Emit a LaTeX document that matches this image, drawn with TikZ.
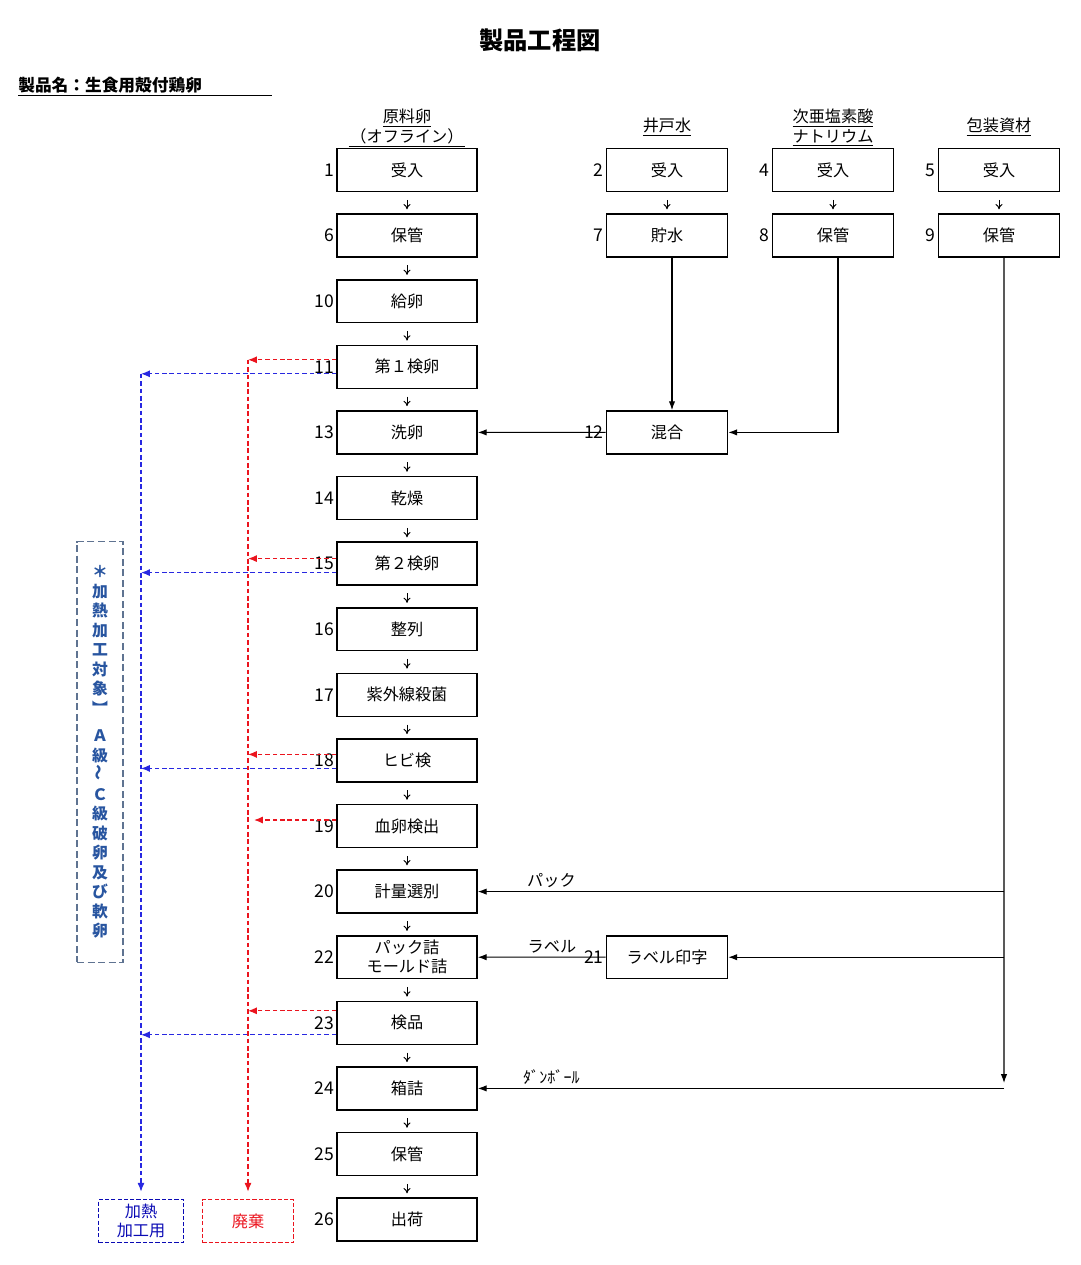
\documentclass[tikz,border=0pt]{standalone}
\usepackage{fontspec}
\setmainfont{Noto Sans CJK JP}
\usepackage{graphicx}
\usetikzlibrary{arrows.meta}
\definecolor{rejred}{RGB}{235,20,30}
\definecolor{rejblue}{RGB}{40,40,225}
\definecolor{heatblue}{RGB}{10,10,180}
\definecolor{notetext}{RGB}{40,85,160}
\definecolor{noteframe}{RGB}{95,115,145}

\begin{document}
\begin{tikzpicture}[x=0.02cm, y=-0.02cm,
        every node/.style={font=\fontsize{9.2}{10.7}\selectfont},
        proc/.style={draw, line width=0.9pt, minimum width=2.8cm, minimum height=0.86cm, inner sep=0pt, align=center},
        sub/.style={proc, minimum width=2.42cm},
        num/.style={anchor=east, inner sep=1pt, font=\fontsize{10}{12}\selectfont},
        colhead/.style={align=center, inner sep=0pt, font=\fontsize{9.2}{9.8}\selectfont},
        stepto/.style={-{To[length=3pt,width=4pt]}, line width=0.55pt, shorten <=0.15cm, shorten >=0.08cm},
        flow/.style={-{Latex[length=5pt,width=3.6pt]}, line width=0.6pt},
        rej/.style={-{Latex[length=5pt,width=4pt]}, line width=0.7pt, dash pattern=on 2.6pt off 1.6pt},
        tag/.style={draw, line width=0.9pt, dash pattern=on 2.4pt off 1.2pt, minimum width=1.7cm, minimum height=0.86cm, align=center, inner sep=0pt},
        lbl/.style={above, inner sep=2pt}]

    \useasboundingbox (0,0) rectangle (1080,1265);

    \node[font=\fontsize{13.8}{16}\bfseries\selectfont] (title) at (540,40) {製品工程図};
    \node[anchor=west, inner sep=0pt, font=\fontsize{9.5}{11}\bfseries\selectfont] (prod) at (18,87) {\underline{\makebox[5.08cm][l]{製品名：生食用殻付鶏卵}}};

    % column heads
    \node[colhead] (h1) at (407,128) {\underline{原料卵}\\\underline{\makebox[2.34cm]{（オフライン）}}};
    \node[colhead] (h2) at (667,127) {\underline{井戸水}};
    \node[colhead] (h3) at (833,128) {\underline{次亜塩素酸}\\\underline{ナトリウム}};
    \node[colhead] (h4) at (999,127) {\underline{包装資材}};

    % main line
    \foreach \k/\lab/\i in {1/受入/0, 6/保管/1, 10/給卵/2, 11/第１検卵/3, 13/洗卵/4, 14/乾燥/5, 15/第２検卵/6, 16/整列/7, 17/紫外線殺菌/8, 18/ヒビ検/9, 19/血卵検出/10, 20/計量選別/11, 22/{パック詰\\モールド詰}/12, 23/検品/13, 24/箱詰/14, 25/保管/15, 26/出荷/16} {
        \node[proc] (b\k) at (407, {170+65.6*\i}) {\lab};
        \node[num] (n\k) at (b\k.west) {\k};
    }

    % side lines
    \foreach \k/\lab/\x/\y in {2/受入/667/170, 7/貯水/667/235.6, 4/受入/833/170, 8/保管/833/235.6, 5/受入/999/170, 9/保管/999/235.6, 12/混合/667/432.4, 21/ラベル印字/667/957.2} {
        \node[sub] (b\k) at (\x,\y) {\lab};
        \node[num] (n\k) at (b\k.west) {\k};
    }

    \foreach \a/\b in {1/6, 6/10, 10/11, 11/13, 13/14, 14/15, 15/16, 16/17, 17/18, 18/19, 19/20, 20/22, 22/23, 23/24, 24/25, 25/26, 2/7, 4/8, 5/9}
        \draw[stepto] (b\a) -- (b\b);

    % water
    \draw[flow] ([xshift=0.1cm]b7.south) -- ([xshift=0.1cm]b12.north);
    \draw[flow] ([xshift=0.1cm]b8.south) |- (b12.east);
    \draw[flow] (b12.west) -- (b13.east);

    % packaging
    \coordinate (drop) at (1004,1083);
    \draw[flow] ([xshift=0.1cm]b9.south) -- (drop);
    \draw[flow] (drop |- b20.east) -- node[lbl, pos=0.86] (lpack) {パック} (b20.east);
    \draw[flow] (drop |- b21.east) -- (b21.east);
    \draw[flow] (b21.west) -- node[lbl, pos=0.42] (llabel) {ラベル} (b22.east);
    \draw[flow] (drop |- b24.east) -- node[lbl, pos=0.86] (lcase) {ﾀﾞﾝﾎﾞｰﾙ} (b24.east);

    % rejects
    \node[tag, draw=heatblue, text=heatblue] (heat) at (141,1221) {加熱\\加工用};
    \node[tag, draw=rejred, text=rejred, minimum width=1.82cm] (waste) at (248,1221) {廃棄};

    \foreach \k/\dr/\du in {11/0.14/-0.14, 15/0.1/-0.18, 18/0.12/-0.16, 23/0.24/-0.24} {
        \coordinate (r\k) at ([yshift=\dr cm]b\k.west);
        \coordinate (u\k) at ([yshift=\du cm]b\k.west);
        \draw[rej, rejred] (r\k) -- (r\k -| waste.north);
        \draw[rej, rejblue] (u\k) -- (u\k -| heat.north);
    }
    \coordinate (r19) at ([yshift=0.12cm]b19.west);
    \draw[rej, rejred, shorten >=0.12cm] (r19) -- (r19 -| waste.north);
    \draw[rej, rejred, shorten >=0.14cm] (r11 -| waste.north) -- (waste.north);
    \draw[rej, rejblue, shorten >=0.14cm] (u11 -| heat.north) -- (heat.north);

    \node[draw=noteframe, line width=0.7pt, dash pattern=on 4pt off 2pt, minimum width=0.92cm, minimum height=8.42cm, inner sep=0pt, align=center, text=notetext, font=\fontsize{9}{11.1}\bfseries\selectfont] (note) at (100,752) {＊\\加\\熱\\加\\工\\対\\象\\︼\\[0.16cm]Ａ\\級\\\rotatebox{90}{～}\\Ｃ\\級\\破\\卵\\及\\び\\軟\\卵};
\end{tikzpicture}
\end{document}
